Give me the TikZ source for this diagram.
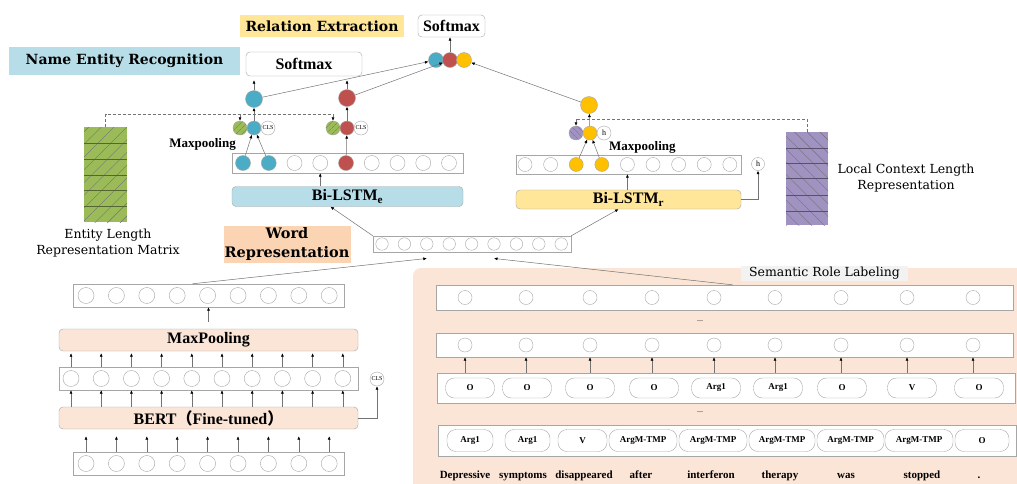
\documentclass[tikz,border=0pt]{standalone}
\usepackage{fontspec}
\setmainfont{Liberation Serif}
\newfontfamily\lblfont{DejaVu Serif}
\newfontfamily\cjkfont{Noto Sans CJK SC}
\usetikzlibrary{arrows.meta,positioning,patterns.meta}
\definecolor{linegray}{HTML}{A6A6A6}
\definecolor{nerblue}{HTML}{4BACC6}
\definecolor{nerred}{HTML}{C0504D}
\definecolor{reyellow}{HTML}{FFC000}
\definecolor{lengreen}{HTML}{9BBB59}
\definecolor{ctxpurple}{HTML}{A093C2}
\definecolor{nerfill}{HTML}{B7DEE8}
\definecolor{refill}{HTML}{FFE699}
\definecolor{wordfill}{HTML}{FBD4B4}
\definecolor{peach}{HTML}{FBE5D6}
\definecolor{tagfill}{HTML}{F2F2F2}
\tikzset{
  tag/.style={rectangle, inner sep=0pt, font=\lblfont\bfseries\fontsize{14}{16}\selectfont},
  smax/.style={rectangle, draw=linegray, rounded corners=4pt, fill=white, inner sep=0pt, font=\bfseries\fontsize{16}{18}\selectfont},
  layer/.style={rectangle, draw=linegray, rounded corners=4pt, inner sep=0pt, font=\bfseries\fontsize{16}{18}\selectfont},
  rowbox/.style={rectangle, draw=linegray, fill=white, inner sep=0pt},
  cell/.style={circle, draw=linegray, fill=white, inner sep=0pt, minimum size=#1},
  cell/.default=14pt,
  hatchne/.style={postaction={pattern={Lines[angle=45,distance=#1,line width=0.4pt]}, pattern color=black!55}},
  hatchnw/.style={postaction={pattern={Lines[angle=-45,distance=#1,line width=0.4pt]}, pattern color=black!55}},
  pill/.style={rectangle, draw=linegray, fill=white, rounded corners=9pt, minimum height=20pt, inner sep=0pt, font=\bfseries\fontsize{9}{10}\selectfont},
  note/.style={font=\bfseries\fontsize{13}{15}\selectfont, inner sep=0pt},
  word/.style={font=\bfseries\fontsize{11}{13}\selectfont, inner sep=0pt, anchor=base},
  side/.style={align=center, font=\lblfont\fontsize{12.5}{16}\selectfont},
  arr/.style={draw=black!55, line width=0.5pt, -{Latex[length=3.5pt,width=3pt,color=black]}},
  dline/.style={draw=black!55, line width=0.5pt, dash pattern=on 3pt off 2pt}
}
\begin{document}
\begin{tikzpicture}[x=1pt, y=-1pt]
\useasboundingbox (0,0) rectangle (1017,483);
\fill[white] (0,0) rectangle (1017,483);
\fill[peach, rounded corners=8pt] (413,268) rectangle (1040,510);

\node[tag, fill=refill, minimum width=164pt, minimum height=22pt] (retag) at (322,26) {Relation Extraction};
\node[smax, minimum width=67pt, minimum height=22pt] (resoft) at (451.5,26) {Softmax};
\node[tag, fill=nerfill, minimum width=231pt, minimum height=28pt] (nertag) at (124.5,61) {Name Entity Recognition};
\node[smax, minimum width=116pt, minimum height=24pt] (nersoft) at (304,64) {Softmax};

\node[cell=15pt, fill=nerblue] (tb) at (436,60) {};
\node[cell=15pt, fill=nerred] (tr) at (450,60) {};
\node[cell=15pt, fill=reyellow] (ty) at (464,60) {};

\node[cell=17pt, fill=nerblue] (nb) at (254,99) {};
\node[cell=17pt, fill=nerred] (nrd) at (347,98) {};
\node[cell=17pt, fill=reyellow] (ry) at (589,105) {};

\node[cell, fill=lengreen, hatchne=4pt] (pg1) at (240,128) {};
\node[cell, fill=nerblue] (pb) at (254,128) {};
\node[cell, font=\fontsize{6}{6}\selectfont] (cls1) at (268,128) {CLS};
\node[cell, fill=lengreen, hatchne=4pt] (pg2) at (333,128) {};
\node[cell, fill=nerred] (pr) at (347,128) {};
\node[cell, font=\fontsize{6}{6}\selectfont] (cls2) at (361,128) {CLS};

\node[cell, fill=ctxpurple, hatchnw=4pt] (pp) at (576,133) {};
\node[cell, fill=reyellow] (py) at (590,133) {};
\node[cell, font=\fontsize{8}{8}\selectfont] (hp) at (604,133) {h};

\node[note, anchor=east] (mpn) at (236,144) {Maxpooling};
\node[rowbox, minimum width=231pt, minimum height=20pt] (nerrow) at (347.5,163) {};
\foreach \c [count=\i] in {nerblue,nerblue,white,white,nerred,white,white,white,white}
  \node[cell=15pt, fill=\c] (nc-\i) at ({243+25.75*(\i-1)},163) {};
\node[layer, fill=nerfill, minimum width=231pt, minimum height=20pt] (bie) at (347.5,196.5) {Bi-LSTM\textsubscript{e}};

\node[note, anchor=west] (mpr) at (609,147) {Maxpooling};
\node[rowbox, minimum width=225pt, minimum height=19pt] (rerow) at (628.5,164.5) {};
\foreach \c [count=\i] in {white,white,reyellow,reyellow,white,white,white,white,white}
  \node[cell, fill=\c] (rc-\i) at ({525+25.6*(\i-1)},164.5) {};
\node[cell=13pt, font=\fontsize{8}{8}\selectfont] (hh) at (758,164) {h};
\node[layer, fill=refill, minimum width=225pt, minimum height=19pt] (bir) at (628.5,199.5) {Bi-LSTM\textsubscript{r}};

\node[rectangle, fill=lengreen, hatchne=9pt, minimum width=43pt, minimum height=95pt, inner sep=0pt] (lenmat) at (105.5,174.5) {};
\foreach \y in {143,159,175,190,206} \draw[black!45!lengreen] (84,\y) -- (127,\y);
\node[side] (lenlab) at (108,243) {Entity Length\\Representation Matrix};
\node[rectangle, fill=ctxpurple, hatchnw=9pt, minimum width=42pt, minimum height=93pt, inner sep=0pt] (ctxmat) at (807,178.5) {};
\foreach \y in {148,163,178,195,211} \draw[black!45!ctxpurple] (786,\y) -- (828,\y);
\node[side] (ctxlab) at (906,178) {Local Context Length\\Representation};

\node[tag, fill=wordfill, minimum width=127pt, minimum height=37pt, align=center, font=\lblfont\bfseries\fontsize{14.5}{19}\selectfont] (wtag) at (287,244) {Word\\Representation};
\node[rowbox, minimum width=198pt, minimum height=16pt] (wrow) at (472,244) {};
\foreach \i in {1,...,9}
  \node[cell=12.5pt] (wc-\i) at ({382+22.4*(\i-1)},244) {};

\node[rowbox, minimum width=271pt, minimum height=23pt] (toprow) at (208.5,295.5) {};
\foreach \i in {1,...,9}
  \node[cell=16pt] (tc-\i) at ({86+30.4*(\i-1)},295.5) {};
\node[layer, fill=peach, minimum width=299pt, minimum height=22pt] (mpool) at (208.5,340) {MaxPooling};
\node[rowbox, minimum width=299pt, minimum height=23pt] (midrow) at (208.5,378.5) {};
\foreach \i in {1,...,10}
  \node[cell=16pt] (mc-\i) at ({71+30.2*(\i-1)},378.5) {};
\node[cell, font=\fontsize{6}{6}\selectfont] (cls) at (377,379) {CLS};
\node[layer, fill=peach, minimum width=299pt, minimum height=22pt] (bert) at (208.5,418) {BERT{\cjkfont （}Fine-tuned{\cjkfont ）}};
\node[rowbox, minimum width=271pt, minimum height=23pt] (botrow) at (208.5,463.5) {};
\foreach \i in {1,...,9}
  \node[cell=16pt] (bc-\i) at ({86+30.4*(\i-1)},463.5) {};

\node[tag, fill=tagfill, minimum width=167pt, minimum height=15pt, font=\lblfont\fontsize{12.5}{14}\selectfont] (srltag) at (824.5,273) {Semantic Role Labeling};
\node[rowbox, minimum width=577pt, minimum height=25pt] (srltop) at (724.5,297.5) {};
\foreach \x [count=\i] in {465,526,590,652,714,775,841,907,973}
  \node[cell] (st-\i) at (\x,297.5) {};
\node[font=\fontsize{8}{8}\selectfont] (dots1) at (700,321) {...};
\node[rowbox, minimum width=577pt, minimum height=24pt] (srlmid) at (724.5,345) {};
\foreach \x [count=\i] in {465,526,590,652,714,775,841,907,973}
  \node[cell] (sm-\i) at (\x,345) {};
\node[rowbox, minimum width=578pt, minimum height=30pt] (olab) at (726,388) {};
\foreach \x/\t [count=\i] in {470/O,527/O,590/O,654/O,716/Arg1,778/Arg1,842/O,912/V,979/O}
  \node[pill, minimum width=49pt] (op-\i) at (\x,388) {\t};
\node[font=\fontsize{8}{8}\selectfont] (dots2) at (700,412) {...};
\node[rowbox, minimum width=578pt, minimum height=31pt] (alab) at (727,440.5) {};
\foreach \x/\w/\t [count=\i] in {470/46/Arg1,527.5/45/Arg1,582.5/49/V,643/68/ArgM-TMP,713/68/ArgM-TMP,782/66/ArgM-TMP,850.5/67/ArgM-TMP,919/68/ArgM-TMP,982/54/O}
  \node[pill, minimum width=\w pt, minimum height=22pt] (ap-\i) at (\x,440.5) {\t};
\foreach \x/\t [count=\i] in {465/Depressive,523/symptoms,584/disappeared,641/after,711/interferon,780/therapy,846/was,922/stopped,979/.}
  \node[word] (w-\i) at (\x,478) {\t};

\foreach \i in {1,...,9} \draw[arr] (sm-\i |- olab.north) -- (sm-\i |- srlmid.south);
\draw[arr] ([xshift=8pt]srltop.north) -- ([yshift=-8pt]wc-6.south);
\draw[arr] ([xshift=-16pt]toprow.north) -- ([yshift=-8pt]wc-3.south);
\draw[arr] (wrow.north west) -- ([xshift=-17pt]bie.south);
\draw[arr] (wrow.north east) -- ([xshift=-10pt]bir.south);

\foreach \i in {1,...,9} \draw[arr, shorten >=7pt] (bc-\i |- botrow.north) -- (bc-\i |- bert.south);
\foreach \i in {1,...,10} \draw[arr] (mc-\i |- bert.north) -- (mc-\i |- midrow.south);
\foreach \i in {1,...,10} \draw[arr, shorten >=2pt] (mc-\i |- midrow.north) -- (mc-\i |- mpool.south);
\draw[arr, shorten <=7pt] (mpool.north) -- (toprow.south);
\draw[arr] (bert.east) -| (cls.south);

\draw[arr] (nc-4 |- bie.north) -- (nc-4 |- nerrow.south);
\draw[arr] (nc-1) -- (pb);
\draw[arr] (nc-2) -- (pb);
\draw[arr] (nc-5) -- (pr);
\draw[arr] (pb) -- (nb);
\draw[arr] (pr) -- (nrd);
\draw[arr, shorten >=4pt] (nb) -- (nb |- nersoft.south);
\draw[arr, shorten >=4pt] (nrd) -- (nrd |- nersoft.south);
\draw[arr] (nb) -- (tb);
\draw[arr] (nrd) -- (tr);
\draw[arr] (tr) -- (tr |- resoft.south);
\coordinate (nerdash) at (0,114);
\draw[dline] (lenmat.north) -- (lenmat.north |- nerdash) -- (pg2.north |- nerdash);
\draw[arr, dline] (pg1.north |- nerdash) -- (pg1.north);
\draw[arr, dline] (pg2.north |- nerdash) -- (pg2.north);

\draw[arr] (rc-5 |- bir.north) -- (rc-5 |- rerow.south);
\draw[arr] (rc-3) -- (py);
\draw[arr] (rc-4) -- (py);
\draw[arr] (py) -- (ry);
\draw[arr] (ry) -- (ty);
\draw[arr] (bir.east) -| (hh.south);
\coordinate (redash) at (0,119);
\draw[dline] (ctxmat.north) -- (ctxmat.north |- redash) -- (pp.north |- redash);
\draw[arr, dline] (pp.north |- redash) -- (pp.north);
\end{tikzpicture}
\end{document}
